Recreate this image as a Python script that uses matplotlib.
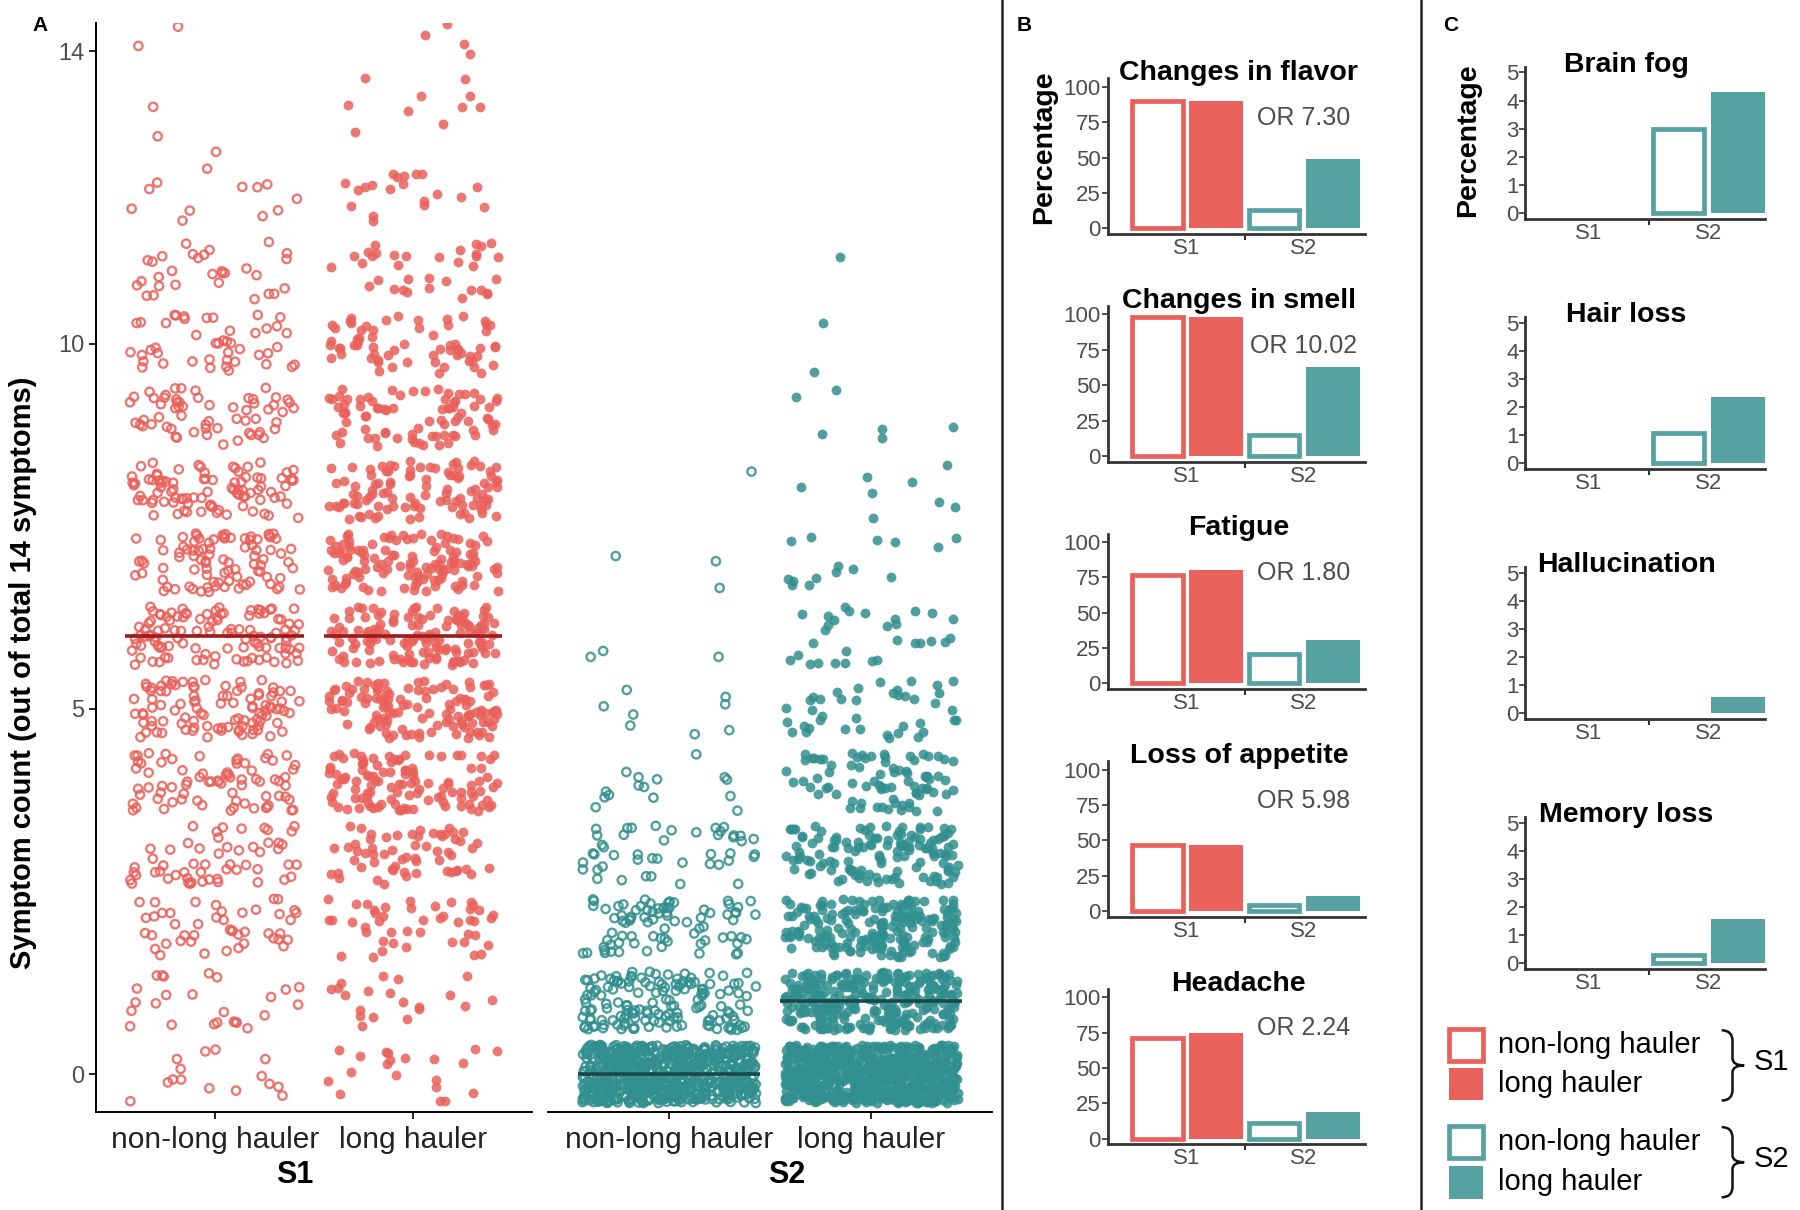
import numpy as np
import matplotlib
matplotlib.use('Agg')
import matplotlib.pyplot as plt
from matplotlib.patches import Rectangle, PathPatch
from matplotlib.path import Path

# ---- panel A: symptom counts per person (how many people at each count) ----
count_values = list(range(15))
s1_non = [15, 25, 45, 55, 75, 100, 110, 90, 90, 60, 45, 30, 12, 3, 2]
s1_long = [20, 20, 45, 60, 110, 120, 130, 120, 100, 80, 65, 35, 20, 8, 6]
s2_non = [700, 150, 80, 45, 15, 8, 3, 3, 1, 0, 0, 0, 0, 0, 0]
s2_long = [700, 300, 200, 130, 80, 40, 30, 15, 8, 6, 2, 1, 0, 0, 0]
group_labels = ['non-long hauler', 'long hauler']

# ---- panel B: common symptoms (percentage) ----
b_titles = ['Changes in flavor', 'Changes in smell', 'Fatigue', 'Loss of appetite', 'Headache']
b_s1_non = [90, 98, 77, 47, 71]
b_s1_long = [90, 98, 80, 47, 75]
b_s2_non = [13, 15, 21, 4, 11]
b_s2_long = [49, 63, 31, 11, 19]
b_or = ['OR 7.30', 'OR 10.02', 'OR 1.80', 'OR 5.98', 'OR 2.24']

# ---- panel C: rare symptoms (percentage) ----
c_titles = ['Brain fog', 'Hair loss', 'Hallucination', 'Memory loss']
c_s1_non = [0, 0, 0, 0]
c_s1_long = [0, 0, 0, 0]
c_s2_non = [3.0, 1.05, 0, 0.3]
c_s2_long = [4.3, 2.35, 0.55, 1.55]

RED = '#E9615A'
TEAL_PT = '#31908F'
TEAL = '#56A2A1'
RED_MED = '#9A1C1C'
TEAL_MED = '#1D4848'
GREY = '#4D4D4D'
plt.rcParams['font.family'] = ['Liberation Sans', 'DejaVu Sans']

fig = plt.figure(figsize=(18, 12.1), dpi=100)

# jitter offsets only (like geom_jitter), the counts themselves come from the lists above
rng = np.random.default_rng(7)


def jitter(counts, center):
    vals = np.repeat(count_values, counts).astype(float)
    jx = rng.uniform(-0.43, 0.43, len(vals))
    jy = rng.uniform(-0.40, 0.40, len(vals))
    return center + jx, vals + jy, vals


def panel_a(ax, counts_non, counts_long, pt_col, med_col):
    for i, (counts, filled) in enumerate([(counts_non, False), (counts_long, True)]):
        x, y, vals = jitter(counts, i)
        if filled:
            ax.scatter(x, y, s=50, color=pt_col, alpha=0.85, linewidths=0, zorder=2)
        else:
            ax.scatter(x, y, s=36, facecolors='none', edgecolors=pt_col, alpha=0.85,
                       linewidths=1.7, zorder=2)
        ax.hlines(np.median(vals), i - 0.45, i + 0.45, color=med_col, lw=2.6, zorder=3)
    ax.set_xlim(-0.6, 1.6)
    ax.set_ylim(-0.52, 14.39)
    ax.set_xticks([0, 1])
    ax.set_xticklabels(group_labels, fontsize=21.5, color='#222222')
    ax.tick_params(axis='x', length=5, width=1.2, pad=5)
    for s in ['top', 'right']:
        ax.spines[s].set_visible(False)
    ax.spines['bottom'].set_linewidth(1.4)
    ax.spines['left'].set_linewidth(1.4)


axA1 = fig.add_axes([0.0532, 0.081, 0.2423, 0.9])
panel_a(axA1, s1_non, s1_long, RED, RED_MED)
axA1.set_yticks([0, 5, 10, 14])
axA1.set_yticklabels(['0', '5', '10', '14'], fontsize=17, color=GREY)
axA1.tick_params(axis='y', length=5, width=1.2, pad=3)

axA2 = fig.add_axes([0.3045, 0.081, 0.2468, 0.9])
panel_a(axA2, s2_non, s2_long, TEAL_PT, TEAL_MED)
axA2.spines['left'].set_visible(False)
axA2.set_yticks([])

fig.text(0.1635, 0.0286, 'S1', fontsize=22, fontweight='bold', ha='center', va='center')
fig.text(0.437, 0.0286, 'S2', fontsize=22, fontweight='bold', ha='center', va='center')
fig.text(0.0128, 0.444, 'Symptom count (out of total 14 symptoms)', fontsize=21,
         fontweight='bold', rotation=90, ha='center', va='center')


def bar_panel(ax, vals, xlim):
    x = np.arange(4)
    faces = ['white', RED, 'white', TEAL]
    edges = [RED, RED, TEAL, TEAL]
    for xi, v, fc, ec in zip(x, vals, faces, edges):
        if v <= 0:
            continue
        if fc == 'white':
            ax.bar(xi, v, width=0.86, facecolor='white', edgecolor=ec, linewidth=3.4, zorder=2)
        else:
            ax.bar(xi, v, width=0.93, color=fc, linewidth=0, zorder=2)
    ax.set_xlim(*xlim)
    ax.set_xticks([0.5, 2.5])
    ax.set_xticklabels(['S1', 'S2'], fontsize=16, color=GREY)
    ax.set_xticks([1.5], minor=True)
    ax.tick_params(axis='x', which='major', length=0, pad=3)
    ax.tick_params(axis='x', which='minor', length=4, width=1.5, color='#333333')
    ax.tick_params(axis='y', length=4, width=1.2, color='#333333', labelsize=16,
                   labelcolor=GREY, pad=1)
    for s in ['top', 'right']:
        ax.spines[s].set_visible(False)
    for s in ['left', 'bottom']:
        ax.spines[s].set_linewidth(2.0)
        ax.spines[s].set_color('#333333')


for i, t in enumerate(b_titles):
    ax = fig.add_axes([0.6154, 1 - (203 + 197.5 * i) / 1050, 0.1429, 0.1286])
    bar_panel(ax, [b_s1_non[i], b_s1_long[i], b_s2_non[i], b_s2_long[i]], (-0.85, 3.55))
    ax.set_ylim(-4, 106)
    ax.set_yticks([0, 25, 50, 75, 100])
    ax.set_title(t, fontsize=20.5, fontweight='bold', pad=0, x=0.51, y=0.988)
    ax.text(2.5, 78, b_or[i], fontsize=18, color=GREY, ha='center', va='center')

for i, t in enumerate(c_titles):
    ax = fig.add_axes([0.8474, 1 - (190 + 217 * i) / 1050, 0.1333, 0.1257])
    bar_panel(ax, [c_s1_non[i], c_s1_long[i], c_s2_non[i], c_s2_long[i]], (-0.56, 3.45))
    ax.set_ylim(-0.22, 5.2)
    ax.set_yticks([0, 1, 2, 3, 4, 5])
    ax.set_title(t, fontsize=20.5, fontweight='bold', pad=0, x=0.42, y=0.967)

fig.text(0.580, 0.878, 'Percentage', fontsize=20.5, fontweight='bold', rotation=90,
         ha='center', va='center')
fig.text(0.8154, 0.884, 'Percentage', fontsize=20.5, fontweight='bold', rotation=90,
         ha='center', va='center')

# panel letters and separators
fig.text(0.0224, 0.979, 'A', fontsize=15, fontweight='bold', ha='center', va='center')
fig.text(0.569, 0.979, 'B', fontsize=15, fontweight='bold', ha='center', va='center')
fig.text(0.806, 0.979, 'C', fontsize=15, fontweight='bold', ha='center', va='center')
fig.add_artist(plt.Line2D([0.5564, 0.5564], [0, 1], color='#222222', lw=1.8))
fig.add_artist(plt.Line2D([0.7897, 0.7897], [0, 1], color='#222222', lw=1.8))

# legend
leg_items = [(0.1229, 'white', RED, 'non-long hauler'), (0.0905, RED, RED, 'long hauler'),
             (0.0429, 'white', TEAL, 'non-long hauler'), (0.0095, TEAL, TEAL, 'long hauler')]
for y0, fc, ec, lab in leg_items:
    fig.add_artist(Rectangle((0.8051, y0), 0.0186, 0.0267, transform=fig.transFigure,
                             facecolor=fc, edgecolor=ec, linewidth=3.4 if fc == 'white' else 0))
    fig.text(0.832, y0 + 0.0133, lab, fontsize=21, ha='left', va='center')


def brace(yc, h):
    x0, xm, xt = 0.9565, 0.9625, 0.9690
    verts = [(x0, yc + h), (xm, yc + h), (xm, yc + h * 0.7),
             (xm, yc + h * 0.2), (xm, yc), (xt, yc),
             (xm, yc), (xm, yc - h * 0.2),
             (xm, yc - h * 0.7), (xm, yc - h), (x0, yc - h)]
    codes = [Path.MOVETO, Path.CURVE3, Path.CURVE3,
             Path.LINETO, Path.CURVE3, Path.CURVE3,
             Path.CURVE3, Path.CURVE3,
             Path.LINETO, Path.CURVE3, Path.CURVE3]
    fig.add_artist(PathPatch(Path(verts, codes), transform=fig.transFigure,
                             facecolor='none', edgecolor='#111111', lw=1.8))


for yc, lab in [(0.1195, 'S1'), (0.0395, 'S2')]:
    brace(yc, 0.029)
    fig.text(0.984, yc + 0.003, lab, fontsize=21, ha='center', va='center')

fig.savefig('out.png', dpi=100)
